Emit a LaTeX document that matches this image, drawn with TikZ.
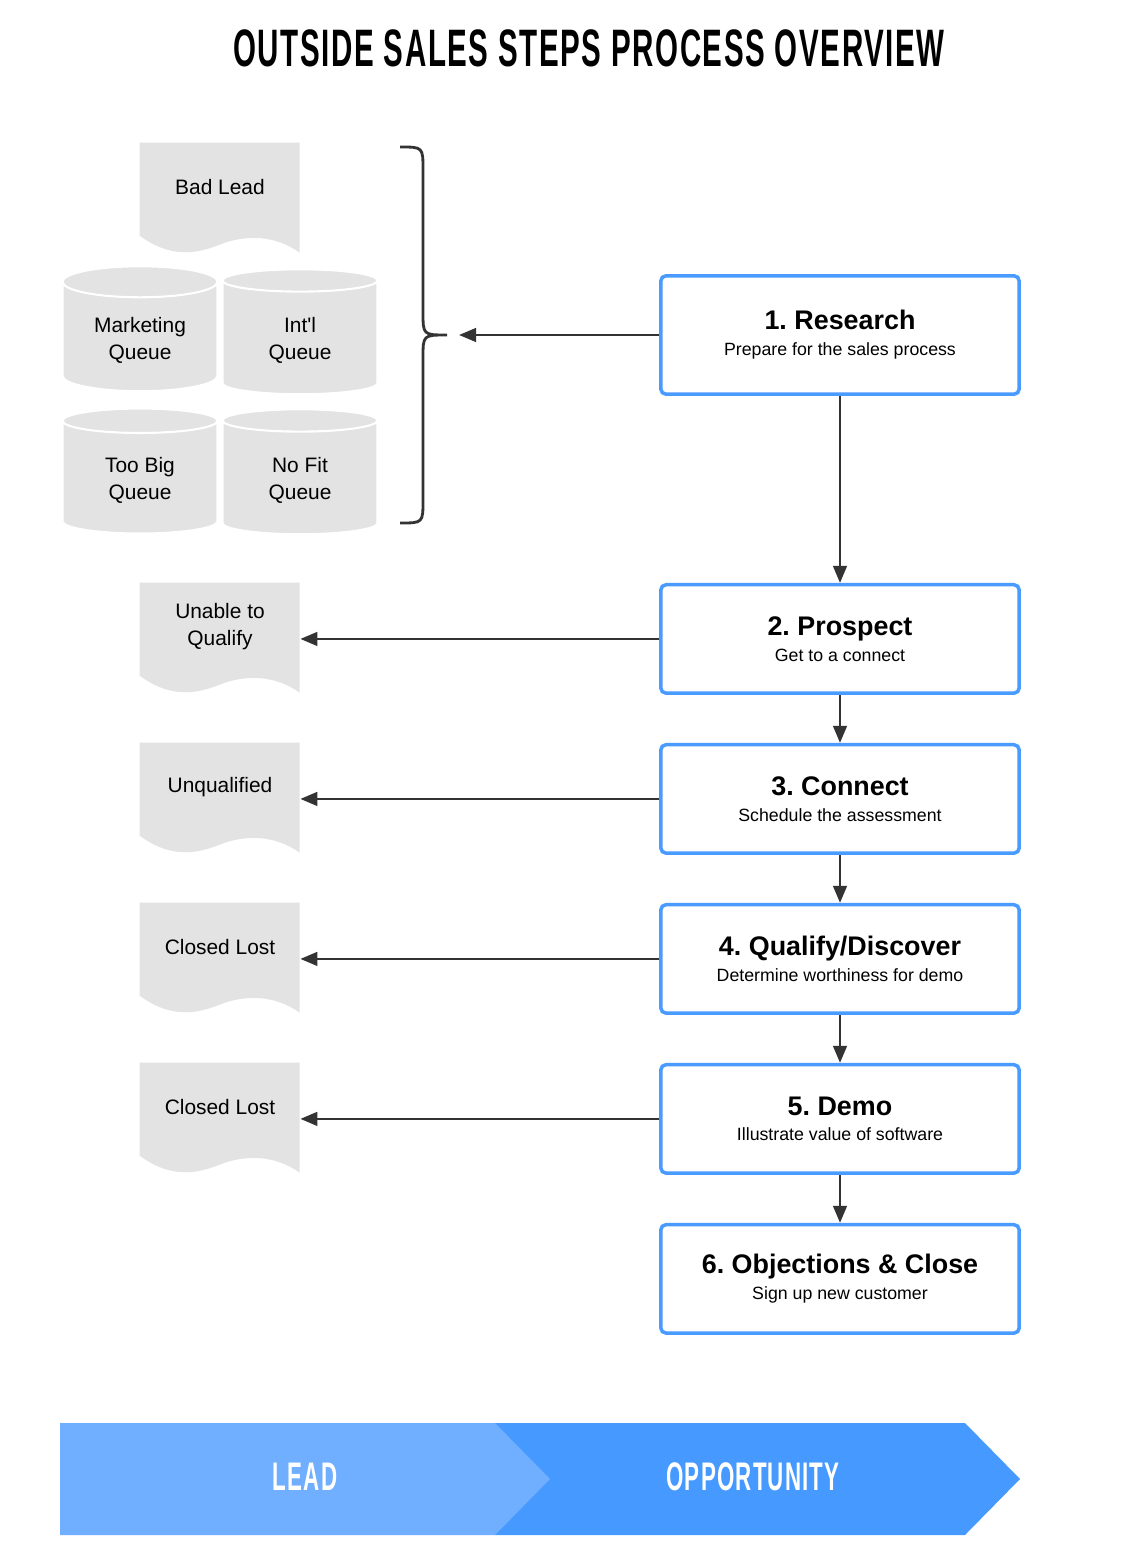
\documentclass[tikz,border=0pt]{standalone}
\usepackage{fontspec}
\setmainfont{Liberation Sans}[Ligatures=TeXOff]
\newfontfamily\bannerfont[FakeStretch=0.56, LetterSpace=3]{Liberation Sans}
\usepackage{xcolor}
\usetikzlibrary{arrows.meta, positioning, shapes.geometric, backgrounds}
\frenchspacing
\definecolor{stepblue}{HTML}{4A9BFF}
\definecolor{leadblue}{HTML}{70AFFF}
\definecolor{oppblue}{HTML}{4599FF}
\definecolor{docgray}{HTML}{E3E3E3}
\definecolor{linegray}{HTML}{333333}
\newcommand{\steptitle}[1]{{\fontsize{15.3}{14.7}\selectfont\bfseries #1}}
\tikzset{
  stepbox/.style={rectangle, draw=stepblue, line width=2pt, fill=white,
                  rounded corners=3pt, align=center, minimum width=7.17cm,
                  minimum height=2.17cm, font=\fontsize{10.1}{14.7}\selectfont},
  docbox/.style={rectangle, inner sep=0pt, minimum width=3.2cm,
                 minimum height=1.76cm, align=center,
                 font=\fontsize{11.9}{15.3}\selectfont},
  queuebox/.style={cylinder, shape border rotate=90, aspect=0.3,
                   fill=docgray, draw=white, line width=1.2pt,
                   minimum width=3.1cm, minimum height=2.5cm, align=center,
                   font=\fontsize{11.9}{15.3}\selectfont},
  marr/.style={-{Triangle[length=0.34cm, width=0.27cm]}, line width=1.6pt,
               draw=linegray},
  bannertext/.style={text=white, font=\bannerfont\fontsize{22.7}{26}\selectfont\bfseries}
}
\begin{document}
\begin{tikzpicture}[x=0.02cm, y=-0.02cm]
  \useasboundingbox (0,0) rectangle (1120,1554);

  %% -- Title --
  \node[font=\bannerfont\fontsize{30}{36}\selectfont\bfseries] (title) at (589,48)
    {OUTSIDE SALES STEPS PROCESS OVERVIEW};

  %% -- Steps --
  \node[stepbox, minimum height=2.37cm] (research) at (840,335)
    {\steptitle{1. Research}\\Prepare for the sales process};
  \node[stepbox, below=3.74cm of research] (prospect)
    {\steptitle{2. Prospect}\\Get to a connect};
  \node[stepbox, below=0.96cm of prospect] (connect)
    {\steptitle{3. Connect}\\Schedule the assessment};
  \node[stepbox, below=0.96cm of connect] (qualify)
    {\steptitle{4. Qualify/Discover}\\Determine worthiness for demo};
  \node[stepbox, below=0.96cm of qualify] (demo)
    {\steptitle{5. Demo}\\Illustrate value of software};
  \node[stepbox, below=0.96cm of demo] (close)
    {\steptitle{6. Objections \& Close}\\Sign up new customer};

  %% -- Outcome documents --
  \node[docbox] (badlead)  at (220,187)  {Bad Lead};
  \node[docbox] (unable)   at (220,627)  {Unable to\\Qualify};
  \node[docbox] (unqual)   at (220,787)  {Unqualified};
  \node[docbox] (lostqual) at (220,947)  {Closed Lost};
  \node[docbox] (lostdemo) at (220,1107) {Closed Lost};

  %% -- Queues --
  \node[queuebox] (mktq)   at (140,340) {Marketing\\Queue};
  \node[queuebox] (intlq)  at (300,340) {Int'l\\Queue};
  \node[queuebox] (bigq)   at (140,480) {Too Big\\Queue};
  \node[queuebox] (nofitq) at (300,480) {No Fit\\Queue};

  \begin{scope}[on background layer]
    \fill[white] (0,0) rectangle (1120,1554);
    \foreach \d in {badlead, unable, unqual, lostqual, lostdemo} {
      \begin{scope}[shift={(\d.north west)}]
        \fill[docgray] (0,0) -- (160,0) -- (160,110)
          .. controls (135,92) and (105,92) .. (80,102)
          .. controls (55,112) and (30,115) .. (0,93) -- cycle;
      \end{scope}
    }
  \end{scope}

  %% -- Brace --
  \coordinate (bracetip) at (447,335);
  \coordinate (braceend) at (459,335);
  \draw[linegray, line width=1.6pt] (400,147) .. controls (423,147) .. (423,170)
    -- (423,312) .. controls (423,335) .. (bracetip)
    .. controls (423,335) .. (423,358) -- (423,500)
    .. controls (423,523) .. (400,523);

  %% -- Arrows: main flow --
  \draw[marr] (research) -- (braceend);
  \draw[marr] (research) -- (prospect);
  \draw[marr] (prospect) -- (connect);
  \draw[marr] (connect)  -- (qualify);
  \draw[marr] (qualify)  -- (demo);
  \draw[marr] (demo)     -- (close);

  %% -- Arrows: drop outs --
  \draw[marr] (prospect.west) -- (prospect.west -| unable.east);
  \draw[marr] (connect.west)  -- (connect.west -| unqual.east);
  \draw[marr] (qualify.west)  -- (qualify.west -| lostqual.east);
  \draw[marr] (demo.west)     -- (demo.west -| lostdemo.east);

  %% -- Stage banner --
  \fill[oppblue] (495,1423) -- (965,1423) -- (1020,1479) -- (965,1535)
    -- (495,1535) -- cycle;
  \fill[leadblue] (60,1423) -- (495,1423) -- (550,1479) -- (495,1535)
    -- (60,1535) -- cycle;
  \node[bannertext] (lead) at (305,1477) {LEAD};
  \node[bannertext] (opportunity) at (753,1477) {OPPORTUNITY};
\end{tikzpicture}
\end{document}
